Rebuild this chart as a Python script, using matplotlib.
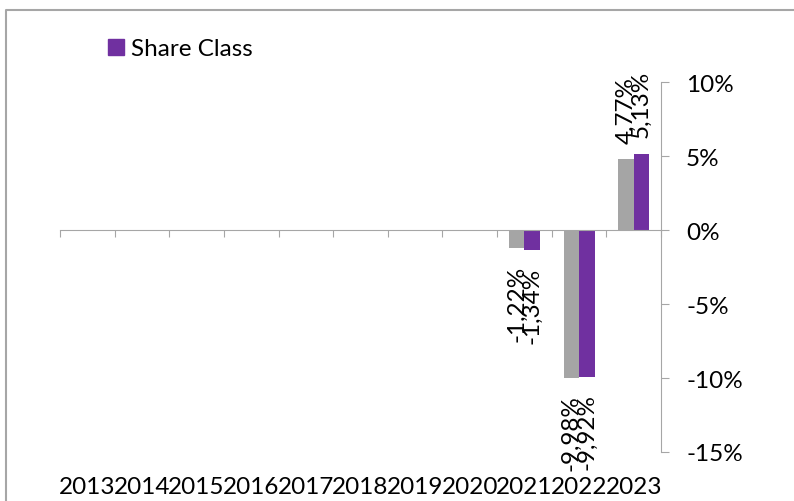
import matplotlib.pyplot as plt
import numpy as np
from matplotlib.lines import Line2D
from matplotlib.patches import Patch
from matplotlib.transforms import blended_transform_factory

years = ['2013', '2014', '2015', '2016', '2017', '2018', '2019', '2020', '2021', '2022', '2023']
benchmark = [np.nan] * 8 + [-1.22, -9.98, 4.77]
share_class = [np.nan] * 8 + [-1.34, -9.92, 5.13]
y_ticks = [10, 5, 0, -5, -10, -15]

grey = '#A5A5A5'
purple = '#7030A0'
axis_col = '#A6A6A6'
fs = 17.5

plt.rcParams['font.family'] = ['Lato', 'DejaVu Sans']

fig = plt.figure(figsize=(7.94, 5.02), dpi=100)
W, H = 794, 502
ax = fig.add_axes([60 / W, (H - 453) / H, (661 - 60) / W, (453 - 83) / H])

# outer chart frame (top and left edges only visible)
fig.lines.append(Line2D([6 / W, 6 / W, 1], [0, (H - 11) / H, (H - 11) / H],
                        transform=fig.transFigure, color=axis_col, linewidth=1.5))

x = np.arange(len(years))
w = 0.284
b1 = ax.bar(x - w / 2, benchmark, w, color=grey)
b2 = ax.bar(x + w / 2, share_class, w, color=purple)

# data labels
for bars, vals in ((b1, benchmark), (b2, share_class)):
    for rect, v in zip(bars, vals):
        if np.isnan(v):
            continue
        cx = rect.get_x() + rect.get_width() / 2
        txt = f"{v:.2f}%".replace('.', ',')
        off = 12 if v >= 0 else -12
        ax.annotate(txt, (cx, v), xytext=(0, off), textcoords='offset points',
                    rotation=90, ha='center', va='bottom' if v >= 0 else 'top',
                    fontsize=fs)

ax.set_xlim(-0.5, len(years) - 0.5)
ax.set_ylim(-15, 10)

for s in ['top', 'left']:
    ax.spines[s].set_visible(False)
ax.spines['right'].set_color(axis_col)
ax.spines['bottom'].set_color(axis_col)
ax.spines['bottom'].set_position(('data', 0))

ax.yaxis.tick_right()
ax.set_yticks(y_ticks)
ax.set_yticklabels([f"{t}%" for t in y_ticks], fontsize=fs)
ax.tick_params(axis='y', direction='out', length=6, color=axis_col, pad=12)

ax.set_xticks(np.arange(-0.5, len(years), 1))
ax.set_xticklabels([])
ax.tick_params(axis='x', direction='out', length=5, color=axis_col)

trans = blended_transform_factory(ax.transData, fig.transFigure)
for xi, yr in zip(x, years):
    ax.text(xi, 14 / H, yr, transform=trans, ha='center', va='center', fontsize=fs)

fig.legend(handles=[Patch(color=purple)], labels=['Share Class'], loc='center left',
           bbox_to_anchor=(108 / W, (H - 50) / H), frameon=False, fontsize=fs,
           handlelength=0.65, handleheight=0.65, handletextpad=0.3, borderpad=0, borderaxespad=0)

fig.savefig('out.png', dpi=100)
